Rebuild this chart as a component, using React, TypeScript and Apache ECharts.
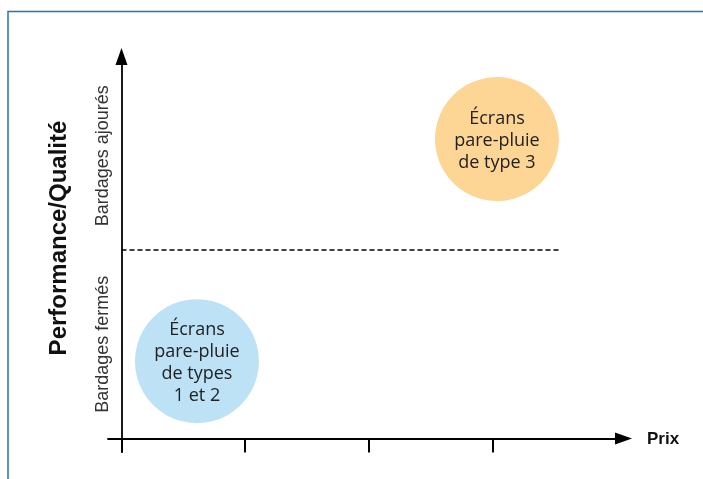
import React, { useEffect, useRef } from "react";
import * as echarts from "echarts";

// Price axis ticks (positions along "Prix")
const priceTicks = [0, 1, 2, 3];
// Quality bands on the vertical axis
const bandCategories = ["Bardages fermés", "Bardages ajourés"];
const bandCenters = [0.5, 1.5];
const bandLimit = 1;
const bandLimitEnd = 3.545;
// Bubbles
const bubbleNames = ["Écrans\npare-pluie\nde types\n1 et 2", "Écrans\npare-pluie\nde type 3"];
const bubbleX = [0.61, 3.035];
const bubbleY = [0.41, 1.589];
const bubbleColors = ["#bde1f5", "#fdd595"];

const xMin = -0.109;
const xMax = 4.058;
const yMin = -0.0716;
const yMax = 2.027;

export default function App() {
  const ref = useRef<HTMLDivElement>(null);
  useEffect(() => {
    if (!ref.current) return;
    const chart = echarts.init(ref.current, undefined, { renderer: "svg" });
    const axisLine = { color: "#000", width: 1.8 };
    chart.setOption({
      animation: false,
      grid: { left: 108, right: 79.5, top: 56.5, bottom: 27, containLabel: false },
      xAxis: [
        {
          type: "value",
          min: xMin,
          max: xMax,
          position: "bottom",
          axisLine: { show: true, onZero: true, lineStyle: axisLine, symbol: ["none", "triangle"], symbolSize: [12, 17] },
          axisTick: { show: true, customValues: priceTicks, inside: false, length: 14, lineStyle: axisLine },
          axisLabel: { show: false },
          splitLine: { show: false },
          name: "Prix",
          nameLocation: "end",
          nameGap: 23.5,
          nameTextStyle: { fontFamily: "Liberation Sans", fontWeight: "bold", fontSize: 17, color: "#111" },
        },
        {
          type: "value",
          min: xMin,
          max: xMax,
          position: "bottom",
          axisLine: { show: false, onZero: true },
          axisTick: { show: true, customValues: priceTicks, inside: true, length: 13, lineStyle: axisLine },
          axisLabel: { show: false },
          splitLine: { show: false },
        },
      ],
      yAxis: {
        type: "value",
        min: yMin,
        max: yMax,
        axisLine: { show: true, onZero: true, lineStyle: axisLine, symbol: ["none", "triangle"], symbolSize: [12, 17] },
        axisTick: { show: false },
        splitLine: { show: false },
        axisLabel: {
          show: true,
          customValues: bandCenters,
          rotate: 90,
          margin: -3,
          fontFamily: "Liberation Sans",
          fontSize: 18,
          color: "#333",
          formatter: (v: number) => bandCategories[bandCenters.indexOf(v)] ?? "",
        },
      },
      graphic: [
        {
          type: "rect",
          shape: { x: 8, y: 11.5, width: 800, height: 600 },
          style: { fill: "none", stroke: "#2473c2", lineWidth: 1.5 },
          silent: true,
        },
        {
          type: "text",
          x: 57,
          y: 238,
          rotation: Math.PI / 2,
          style: {
            text: "Performance/Qualité",
            fontFamily: "Liberation Sans",
            fontWeight: "bold",
            fontSize: 24,
            fill: "#111",
            align: "center",
            verticalAlign: "middle",
          },
        },
      ],
      series: [
        {
          type: "line",
          data: [
            [0, bandLimit],
            [bandLimitEnd, bandLimit],
          ],
          symbol: "none",
          lineStyle: { color: "#000", width: 1.5, type: [5, 3] },
          z: 1,
        },
        {
          type: "scatter",
          symbolSize: 124,
          z: 2,
          data: bubbleNames.map((n, i) => ({
            value: [bubbleX[i], bubbleY[i]],
            name: n,
            itemStyle: { color: bubbleColors[i], opacity: 1 },
          })),
          label: {
            show: true,
            position: "inside",
            formatter: (p: any) => p.name,
            fontFamily: "Open Sans",
            fontSize: 18,
            lineHeight: 22,
            color: "#222",
          },
          emphasis: { disabled: true },
        },
      ],
    });
    return () => chart.dispose();
  }, []);
  return <div ref={ref} style={{ position: "fixed", left: 0, top: 0, width: 703, height: 479 }} />;
}
